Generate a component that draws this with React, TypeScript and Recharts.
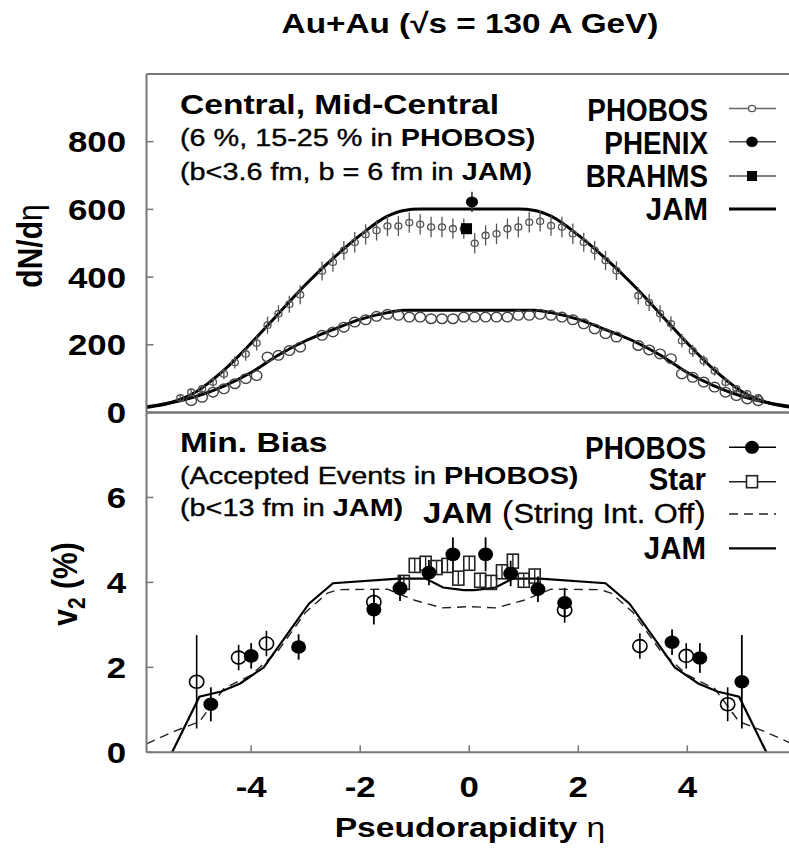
import React from "react";
import {
  ComposedChart,
  Line,
  Scatter,
  ErrorBar,
  XAxis,
  YAxis,
} from "recharts";

const FONT = '"Liberation Sans", Arial, Helvetica, sans-serif';

// ---- axes ----
const etaDomain: [number, number] = [-5.92, 5.92];
const etaTicks = [-4, -2, 0, 2, 4];
const dndetaTicks = [0, 200, 400, 600, 800];
const v2Ticks = [0, 2, 4, 6];

// ---- top panel: dN/deta ----
const phobosCentralEta = [
  -5.3, -5.1, -4.9, -4.7, -4.5, -4.3, -4.1, -3.9, -3.7, -3.5, -3.3, -3.1, -2.7, -2.5, -2.3,
  -2.1, -1.9, -1.7, -1.5, -1.3, -1.1, -0.9, -0.7, -0.5, -0.3, -0.1, 0.1, 0.3, 0.5, 0.7, 0.9,
  1.1, 1.3, 1.5, 1.7, 1.9, 2.1, 2.3, 2.5, 2.7, 3.1, 3.3, 3.5, 3.7, 3.9, 4.1, 4.3, 4.5, 4.7,
  4.9, 5.1, 5.3,
];
const phobosCentral = [
  43, 60, 70, 90, 114, 148, 173, 205, 258, 292, 320, 348, 418, 444, 479, 503, 526, 538, 551,
  551, 561, 556, 548, 548, 543, 543, 500, 523, 528, 543, 548, 562, 565, 552, 548, 528, 503,
  479, 449, 419, 345, 325, 292, 262, 212, 182, 153, 123, 89, 70, 55, 43,
];
const phobosCentralErr = [
  8, 10, 12, 14, 16, 18, 20, 22, 25, 25, 25, 28, 28, 28, 28, 30, 30, 30, 30, 30, 30, 30, 30,
  30, 30, 30, 30, 30, 30, 30, 30, 30, 30, 30, 30, 30, 28, 28, 28, 28, 25, 25, 25, 22, 20, 18,
  16, 14, 12, 10, 8, 8,
];

const phobosMidEta = [
  -5.1, -4.9, -4.7, -4.5, -4.3, -4.1, -3.9, -3.7, -3.5, -3.3, -3.1, -2.7, -2.5, -2.3, -2.1,
  -1.9, -1.7, -1.5, -1.3, -1.1, -0.9, -0.7, -0.5, -0.3, -0.1, 0.1, 0.3, 0.5, 0.7, 0.9, 1.1,
  1.3, 1.5, 1.7, 1.9, 2.1, 2.3, 2.5, 2.7, 3.1, 3.3, 3.5, 3.7, 3.9, 4.1, 4.3, 4.5, 4.7, 4.9,
  5.1, 5.3,
];
const phobosMid = [
  35, 45, 60, 70, 85, 100, 109, 164, 169, 183, 193, 228, 238, 252, 267, 274, 284, 290, 287,
  282, 282, 277, 277, 277, 282, 282, 282, 282, 282, 287, 287, 290, 287, 282, 274, 262, 247,
  233, 223, 198, 185, 173, 159, 114, 104, 90, 75, 60, 50, 40, 35,
];

const phenixEta = [0.05];
const phenix = [622];
const phenixErr = [30];
const brahmsEta = [-0.05];
const brahms = [543];

const jamCentralEta = [
  -5.92, -5.5, -5.0, -4.5, -4.0, -3.5, -3.0, -2.5, -2.0, -1.5, -1.2, -0.9, 0.9, 1.2, 1.5, 2.0,
  2.5, 3.0, 3.5, 4.0, 4.5, 5.0, 5.5, 5.92,
];
const jamCentral = [
  15, 28, 62, 125, 205, 292, 378, 455, 524, 580, 597, 601, 601, 597, 580, 524, 455, 378, 292,
  205, 125, 62, 28, 15,
];
const jamMidEta = [
  -5.92, -5.5, -5.0, -4.5, -4.0, -3.5, -3.0, -2.5, -2.0, -1.5, -1.2, 1.2, 1.5, 2.0, 2.5, 3.0,
  3.5, 4.0, 4.5, 5.0, 5.5, 5.92,
];
const jamMid = [
  17, 28, 48, 78, 118, 170, 212, 245, 275, 295, 302, 302, 295, 275, 245, 212, 170, 118, 78,
  48, 28, 17,
];

// ---- bottom panel: v2 (%) ----
const phobosV2Eta = [-4.74, -4.0, -3.13, -1.75, -1.27, -0.74, -0.3, 0.3, 0.76, 1.26, 1.75, 3.72, 4.23, 5.0];
const phobosV2 = [1.13, 2.27, 2.48, 3.36, 3.86, 4.23, 4.66, 4.66, 4.21, 3.84, 3.52, 2.59, 2.22, 1.66];
const phobosV2Err = [0.4, 0.3, 0.3, 0.35, 0.3, 0.3, 0.4, 0.4, 0.3, 0.3, 0.35, 0.3, 0.35, 1.1];

const phobosReflEta = [-5.0, -4.23, -3.72, -1.75, 1.75, 3.13, 3.98, 4.74];
const phobosRefl = [1.66, 2.23, 2.56, 3.54, 3.35, 2.5, 2.27, 1.13];
const phobosReflErr = [1.1, 0.3, 0.3, 0.3, 0.3, 0.3, 0.3, 0.4];

const starEta = [-1.2, -1.0, -0.8, -0.6, -0.4, -0.2, 0.0, 0.2, 0.4, 0.6, 0.8, 1.0, 1.2];
const star = [4.0, 4.4, 4.45, 4.35, 4.4, 4.1, 4.45, 4.05, 4.0, 4.25, 4.5, 4.05, 4.15];
const starErr = [0.15, 0.15, 0.15, 0.15, 0.15, 0.15, 0.15, 0.15, 0.15, 0.15, 0.15, 0.15, 0.15];

const jamV2Eta = [
  -5.45, -4.95, -4.55, -4.2, -3.77, -2.94, -2.5, -1.3, -0.8, -0.48, -0.1, 0.1, 0.48, 0.8, 1.3,
  2.5, 2.94, 3.77, 4.2, 4.55, 4.95, 5.45,
];
const jamV2 = [
  0, 1.31, 1.43, 1.62, 2.0, 3.5, 3.98, 4.09, 4.09, 3.88, 3.82, 3.82, 3.88, 4.09, 4.09, 3.98,
  3.5, 2.0, 1.62, 1.43, 1.31, 0,
];
const jamOffEta = [
  -5.92, -5.4, -4.95, -4.5, -4.0, -3.5, -3.0, -2.6, -2.4, -1.5, -1.0, -0.5, 0, 0.5, 1.0, 1.5,
  2.4, 2.6, 3.0, 3.5, 4.0, 4.5, 4.95, 5.4, 5.92,
];
const jamOff = [
  0.2, 0.5, 0.72, 1.5, 1.82, 2.4, 3.3, 3.75, 3.83, 3.84, 3.58, 3.4, 3.43, 3.4, 3.58, 3.84, 3.83,
  3.75, 3.3, 2.4, 1.82, 1.5, 0.72, 0.5, 0.2,
];

const pts = (xs: number[], ys: number[], es?: number[]) =>
  xs.map((x, i) => ({ x, y: ys[i], e: es ? es[i] : 0 }));

// ---- shapes ----
const openDot = (r: number, stroke: string, sw: number) => (p: any) =>
  <ellipse cx={p.cx} cy={p.cy} rx={r * 1.1} ry={r} fill="none" stroke={stroke} strokeWidth={sw} />;
const fullDot = (r: number) => (p: any) =>
  <ellipse cx={p.cx} cy={p.cy} rx={r * 1.1} ry={r} fill="#000" />;
const fullSquare = (s: number) => (p: any) =>
  <rect x={p.cx - s / 2} y={p.cy - s / 2} width={s} height={s} fill="#000" />;
const openSquare = (w: number, h: number) => (p: any) =>
  <rect x={p.cx - w / 2} y={p.cy - h / 2} width={w} height={h} fill="none" stroke="#222" strokeWidth={1.6} />;

// ---- text helpers ----
const T = ({ x, y, size, sx = 1.2, anchor = "start", weight = "bold", children }: any) => (
  <g transform={`translate(${x},${y}) scale(${sx},1)`}>
    <text x={0} y={0} fontSize={size} fontWeight={weight} textAnchor={anchor} fontFamily={FONT} fill="#000">
      {children}
    </text>
  </g>
);
const Reg = ({ children }: any) => (
  <tspan fontWeight="normal" stroke="#000" strokeWidth={0.35}>{children}</tspan>
);

const YTick = ({ x, y, payload }: any) => (
  <g transform={`translate(${x},${y}) scale(1.2,1)`}>
    <text x={0} y={0} dy={10.4} textAnchor="end" fontSize={29} fontWeight="bold" fontFamily={FONT} fill="#000">
      {payload.value}
    </text>
  </g>
);
const XTick = ({ x, y, payload }: any) => (
  <g transform={`translate(${x},${y}) scale(1.2,1)`}>
    <text x={0} y={0} dy={20.8} textAnchor="middle" fontSize={29} fontWeight="bold" fontFamily={FONT} fill="#000">
      {payload.value}
    </text>
  </g>
);

const frame = { stroke: "#777", strokeWidth: 2 };
const tickLn = { stroke: "#777", strokeWidth: 1.5 };

const Frame = ({ yDomain, yTicks, showX }: { yDomain: [number, number]; yTicks: number[]; showX: boolean }) => [
  <XAxis key="xb" xAxisId="b" dataKey="x" type="number" domain={etaDomain} ticks={etaTicks} allowDataOverflow
    height={1} interval={0} axisLine={frame} tickLine={tickLn} tickSize={-7} tickMargin={30.7}
    tick={showX ? <XTick /> : false} />,
  <XAxis key="xt" xAxisId="t" orientation="top" type="number" domain={etaDomain} ticks={etaTicks} allowDataOverflow
    height={1} interval={0} axisLine={frame} tickLine={tickLn} tickSize={-6} tick={false} />,
  <YAxis key="yl" yAxisId="l" dataKey="y" type="number" domain={yDomain} ticks={yTicks} allowDataOverflow
    width={1} interval={0} axisLine={frame} tickLine={tickLn} tickSize={-7} tickMargin={27.5} tick={<YTick />} />,
  <YAxis key="yr" yAxisId="r" orientation="right" type="number" domain={yDomain} ticks={yTicks} allowDataOverflow
    width={1} interval={0} axisLine={frame} tickLine={tickLn} tickSize={-7} tick={false} />,
];

export default function App() {
  return (
    <div style={{ position: "fixed", left: 0, top: 0, width: 789, height: 849, overflow: "hidden", background: "#fff" }}>
      <div style={{ position: "absolute", left: 0, top: 0 }}>
        <ComposedChart width={800} height={430} margin={{ top: 73, right: 7, bottom: 16.5, left: 145.5 }}>
          {Frame({ yDomain: [0, 1000], yTicks: dndetaTicks, showX: false })}
          <Line xAxisId="b" yAxisId="l" data={pts(jamCentralEta, jamCentral)} dataKey="y" type="monotone"
            stroke="#000" strokeWidth={3} dot={false} isAnimationActive={false} />
          <Line xAxisId="b" yAxisId="l" data={pts(jamMidEta, jamMid)} dataKey="y" type="monotone"
            stroke="#000" strokeWidth={3} dot={false} isAnimationActive={false} />
          <Scatter xAxisId="b" yAxisId="l" data={pts(phobosMidEta, phobosMid)} dataKey="y"
            shape={openDot(4.8, "#444", 1.4)} isAnimationActive={false} />
          <Scatter xAxisId="b" yAxisId="l" data={pts(phobosCentralEta, phobosCentral, phobosCentralErr)} dataKey="y"
            shape={openDot(3.2, "#555", 1.3)} isAnimationActive={false}>
            <ErrorBar dataKey="e" direction="y" width={0} stroke="#555" strokeWidth={1.3} />
          </Scatter>
          <Scatter xAxisId="b" yAxisId="l" data={pts(brahmsEta, brahms)} dataKey="y"
            shape={fullSquare(11)} isAnimationActive={false} />
          <Scatter xAxisId="b" yAxisId="l" data={pts(phenixEta, phenix, phenixErr)} dataKey="y"
            shape={fullDot(5.5)} isAnimationActive={false}>
            <ErrorBar dataKey="e" direction="y" width={0} stroke="#333" strokeWidth={1.5} />
          </Scatter>
        </ComposedChart>
      </div>
      <div style={{ position: "absolute", left: 0, top: 400 }}>
        <ComposedChart width={800} height={449} margin={{ top: 11.5, right: 7, bottom: 95.7, left: 145.5 }}>
          {Frame({ yDomain: [0, 8], yTicks: v2Ticks, showX: true })}
          <Line xAxisId="b" yAxisId="l" data={pts(jamOffEta, jamOff)} dataKey="y" type="linear"
            stroke="#222" strokeWidth={1.4} strokeDasharray="9 6" dot={false} isAnimationActive={false} />
          <Line xAxisId="b" yAxisId="l" data={pts(jamV2Eta, jamV2)} dataKey="y" type="linear"
            stroke="#000" strokeWidth={2.2} dot={false} isAnimationActive={false} />
          <Scatter xAxisId="b" yAxisId="l" data={pts(starEta, star, starErr)} dataKey="y"
            shape={openSquare(11, 14)} isAnimationActive={false}>
            <ErrorBar dataKey="e" direction="y" width={0} stroke="#222" strokeWidth={1.4} />
          </Scatter>
          <Scatter xAxisId="b" yAxisId="l" data={pts(phobosReflEta, phobosRefl, phobosReflErr)} dataKey="y"
            shape={openDot(6.5, "#000", 1.6)} isAnimationActive={false}>
            <ErrorBar dataKey="e" direction="y" width={0} stroke="#000" strokeWidth={1.6} />
          </Scatter>
          <Scatter xAxisId="b" yAxisId="l" data={pts(phobosV2Eta, phobosV2, phobosV2Err)} dataKey="y"
            shape={fullDot(6.8)} isAnimationActive={false}>
            <ErrorBar dataKey="e" direction="y" width={0} stroke="#000" strokeWidth={1.8} />
          </Scatter>
        </ComposedChart>
      </div>
      <svg width={789} height={849} style={{ position: "absolute", left: 0, top: 0, pointerEvents: "none" }}>
        <T x={470} y={33} size={28} sx={1.19} anchor="middle">Au+Au (√s = 130 A GeV)</T>
        <g transform="translate(30,246) rotate(-90) scale(1,1.15)">
          <text x={0} y={0} dy={10} textAnchor="middle" fontSize={30} fontWeight="bold" fontFamily={FONT}>
            dN/d<tspan fontWeight="normal">η</tspan>
          </text>
        </g>
        <g transform="translate(68,584) rotate(-90) scale(1,1.15)">
          <text x={0} y={0} dy={8} textAnchor="middle" fontSize={30} fontWeight="bold" fontFamily={FONT}>
            v<tspan fontSize={21} dy={7}>2</tspan><tspan dy={-7}> (%)</tspan>
          </text>
        </g>
        <T x={470} y={837} size={28} anchor="middle">
          Pseudorapidity <tspan fontWeight="normal">η</tspan>
        </T>

        <T x={180} y={114} size={28}>Central, Mid-Central</T>
        <T x={180} y={146} size={24}><Reg>(6 %, 15-25 % in </Reg>PHOBOS)</T>
        <T x={180} y={180} size={24}><Reg>(b&lt;3.6 fm, b = 6 fm in </Reg>JAM)</T>

        <T x={180} y={452} size={28}>Min. Bias</T>
        <T x={180} y={484} size={24}><Reg>(Accepted Events in </Reg>PHOBOS)</T>
        <T x={180} y={516} size={24}><Reg>(b&lt;13 fm in </Reg>JAM)</T>

        {/* legend, top */}
        <T x={708} y={120.5} size={32} sx={0.87} anchor="end">PHOBOS</T>
        <T x={708} y={153.5} size={32} sx={0.87} anchor="end">PHENIX</T>
        <T x={708} y={187} size={32} sx={0.87} anchor="end">BRAHMS</T>
        <T x={708} y={220} size={32} sx={0.92} anchor="end">JAM</T>
        <line x1={729} x2={776} y1={108.5} y2={108.5} stroke="#666" strokeWidth={1.5} />
        <ellipse cx={752} cy={108.5} rx={3.5} ry={3.2} fill="#fff" stroke="#555" strokeWidth={1.3} />
        <line x1={729} x2={776} y1={141.7} y2={141.7} stroke="#555" strokeWidth={1.5} />
        <ellipse cx={752} cy={141.7} rx={5.8} ry={5.3} fill="#000" />
        <line x1={729} x2={776} y1={176} y2={176} stroke="#555" strokeWidth={1.5} />
        <rect x={747} y={171} width={10} height={10} fill="#000" />
        <line x1={729} x2={776} y1={209} y2={209} stroke="#000" strokeWidth={3} />

        {/* legend, bottom */}
        <T x={706} y={458.5} size={31} sx={0.9} anchor="end">PHOBOS</T>
        <T x={706} y={490} size={31} sx={0.95} anchor="end">Star</T>
        <T x={706} y={523} size={30} sx={1.1} anchor="end">
          JAM <tspan fontWeight="normal" fontSize={32}>(</tspan><Reg><tspan fontSize={28}>String Int. Off</tspan></Reg><tspan fontWeight="normal" fontSize={32}>)</tspan>
        </T>
        <T x={706} y={558.5} size={31} sx={0.95} anchor="end">JAM</T>
        <line x1={729} x2={776} y1={447.3} y2={447.3} stroke="#000" strokeWidth={1.6} />
        <ellipse cx={752} cy={447.3} rx={7} ry={6.5} fill="#000" />
        <line x1={729} x2={776} y1={481.7} y2={481.7} stroke="#222" strokeWidth={1.5} />
        <rect x={746.5} y={475.7} width={11} height={12} fill="#fff" stroke="#222" strokeWidth={1.6} />
        <line x1={729} x2={776} y1={514} y2={514} stroke="#222" strokeWidth={1.4} strokeDasharray="9 6" />
        <line x1={729} x2={776} y1={548.3} y2={548.3} stroke="#000" strokeWidth={2.2} />
      </svg>
    </div>
  );
}
